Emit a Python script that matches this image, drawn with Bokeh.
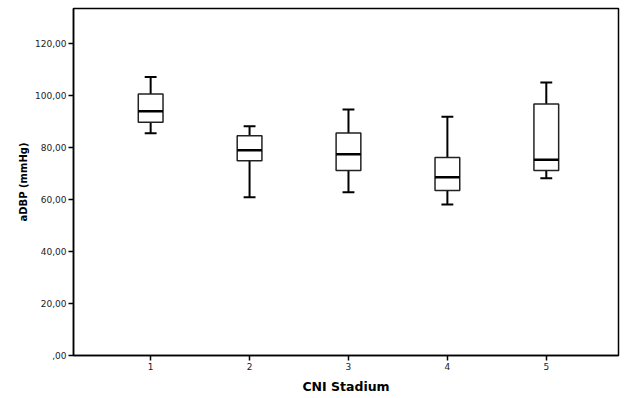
from bokeh.plotting import figure
from bokeh.models import FixedTicker, Range1d, ColumnDataSource
from bokeh.embed import file_html
from bokeh.resources import INLINE

# Data
stadium = [1, 2, 3, 4, 5]
whisker_low = [85.5, 60.9, 62.8, 58.1, 68.2]
q1 = [89.7, 74.9, 71.2, 63.5, 71.2]
median = [94.0, 79.0, 77.4, 68.6, 75.3]
q3 = [100.6, 84.5, 85.6, 76.2, 96.8]
whisker_high = [107.1, 88.2, 94.6, 91.9, 105.0]
y_ticks = [0, 20, 40, 60, 80, 100, 120]
y_tick_labels = [",00", "20,00", "40,00", "60,00", "80,00", "100,00", "120,00"]

box_w = 0.25
cap_w = 0.12

src = ColumnDataSource(dict(
    x=stadium,
    left=[s - box_w / 2 for s in stadium],
    right=[s + box_w / 2 for s in stadium],
    cleft=[s - cap_w / 2 for s in stadium],
    cright=[s + cap_w / 2 for s in stadium],
    lo=whisker_low, q1=q1, med=median, q3=q3, hi=whisker_high,
))

p = figure(width=629, height=396, output_backend="svg", toolbar_location=None,
           x_range=Range1d(0.22, 5.73), y_range=Range1d(0, 133.5),
           min_border_left=73, min_border_right=11, min_border_top=8, min_border_bottom=41)

p.grid.visible = False
p.background_fill_color = "white"
p.border_fill_color = "white"
p.outline_line_color = "black"
p.outline_line_width = 1.5

# whiskers
p.segment(x0="x", y0="q3", x1="x", y1="hi", source=src, line_color="black", line_width=2)
p.segment(x0="x", y0="lo", x1="x", y1="q1", source=src, line_color="black", line_width=2)
p.segment(x0="cleft", y0="hi", x1="cright", y1="hi", source=src, line_color="black", line_width=2)
p.segment(x0="cleft", y0="lo", x1="cright", y1="lo", source=src, line_color="black", line_width=2)
# boxes
p.quad(left="left", right="right", bottom="q1", top="q3", source=src,
       fill_color="white", line_color="#222222", line_width=1.5)
# medians
p.segment(x0="left", y0="med", x1="right", y1="med", source=src, line_color="black", line_width=2.5)

# axes
p.xaxis.ticker = FixedTicker(ticks=stadium)
p.yaxis.ticker = FixedTicker(ticks=y_ticks)
p.yaxis.major_label_overrides = {t: l for t, l in zip(y_ticks, y_tick_labels)}
for ax in (p.xaxis, p.yaxis):
    ax.axis_line_color = "black"
    ax.axis_line_width = 1.5
    ax.major_tick_line_color = "black"
    ax.major_tick_line_width = 1.5
    ax.major_tick_out = 5
    ax.major_tick_in = 0
    ax.minor_tick_line_color = None
    ax.major_label_text_font = "DejaVu Sans"
    ax.major_label_text_font_size = "9px"
    ax.major_label_text_color = "#222222"
    ax.axis_label_text_font = "DejaVu Sans"
    ax.axis_label_text_font_style = "bold"
    ax.axis_label_text_color = "black"

p.xaxis.major_label_standoff = 2
p.yaxis.major_label_standoff = 2
p.xaxis.axis_label = "CNI Stadium"
p.xaxis.axis_label_text_font_size = "12.5px"
p.xaxis.axis_label_standoff = 6
p.yaxis.axis_label = "aDBP (mmHg)"
p.yaxis.axis_label_text_font_size = "10px"
p.yaxis.axis_label_standoff = 3

open("out.html", "w").write(file_html(p, INLINE))
